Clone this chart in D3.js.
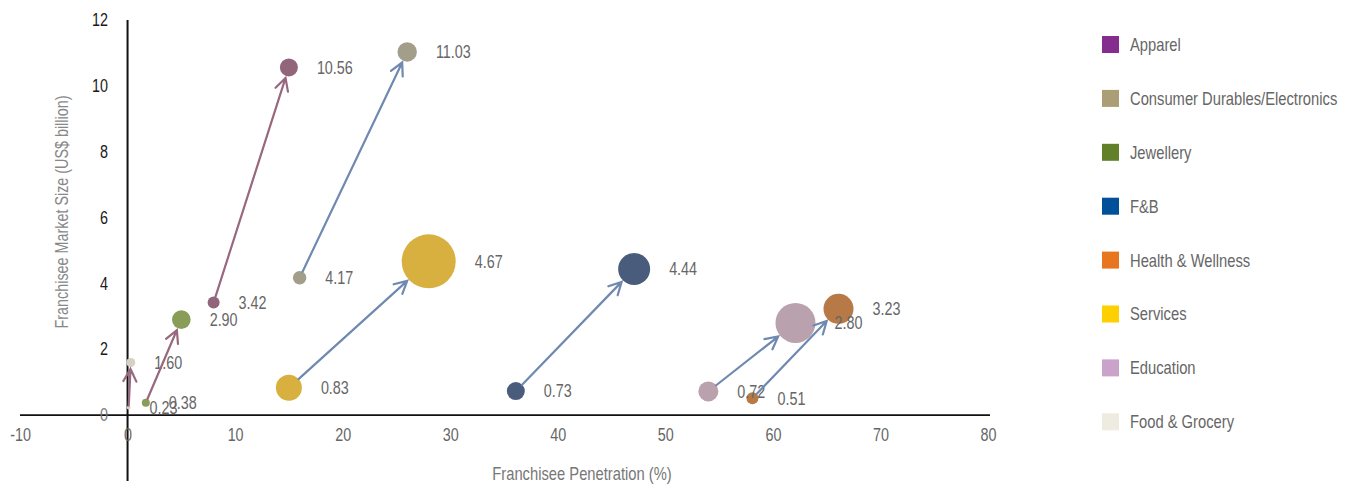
<!DOCTYPE html>
<html>
<head>
<meta charset="utf-8">
<script src="https://cdn.jsdelivr.net/npm/d3@7"></script>
<style>
body { margin: 0; background: #fff; }
svg { display: block; font-family: "Liberation Sans", Arial, sans-serif; }
</style>
</head>
<body>
<svg id="chart" width="1355" height="484"></svg>
<script>
//
// Data
//
var categories = ["Apparel", "Consumer Durables/Electronics", "Jewellery", "F&B",
	"Health & Wellness", "Services", "Education", "Food & Grocery"];
var legendColors = ["#852c8f", "#ab9d75", "#628028", "#00509a", "#e8761f", "#ffd000", "#caa3cb", "#eeebe0"];
var bubbleColors = ["#91667b", "#a39e8a", "#8a9d58", "#495c7c", "#b77946", "#d8b03f", "#b9a1ad", "#d7d1c4"];
var arrowColors  = ["#98687f", "#6f89b1", "#98687f", "#6f89b1", "#6f89b1", "#6f89b1", "#6f89b1", "#98687f"];
var penetrationStart = [8.0, 16.0, 1.7, 36.1, 58.1, 15.0, 54.0, 0.1];
var penetrationEnd   = [15.0, 26.0, 5.0, 47.1, 66.1, 28.0, 62.1, 0.3];
var marketStart = [3.42, 4.17, 0.38, 0.73, 0.51, 0.83, 0.72, 0.23];
var marketEnd   = [10.56, 11.03, 2.90, 4.44, 3.23, 4.67, 2.80, 1.60];
var sizeStart = [4.9, 6.2, 2.2, 11.1, 4.9, 23.2, 13.7, 0.5];
var sizeEnd   = [11.1, 12.9, 11.9, 35.1, 30.9, 100, 54.9, 2.8];
var xTicks = [-10, 0, 10, 20, 30, 40, 50, 60, 70, 80];
var yTicks = [0, 2, 4, 6, 8, 10, 12];

var NARROW = "scale(0.82,1)"; // condensed look of the original typeface

var svg = d3.select("#chart");
var x = d3.scaleLinear().domain([-10, 80]).range([20, 988]);
var y = d3.scaleLinear().domain([-2, 12]).range([481, 20]);
var r = d3.scaleSqrt().domain([0, 100]).range([0, 27]);

// axes (lines cross at zero)
svg.append("line").attr("x1", x(-10)).attr("x2", x(80) + 2)
	.attr("y1", y(0)).attr("y2", y(0))
	.attr("stroke", "#111").attr("stroke-width", 1.6);
svg.append("line").attr("x1", x(0)).attr("x2", x(0))
	.attr("y1", y(12)).attr("y2", y(-2))
	.attr("stroke", "#111").attr("stroke-width", 2);

var xAxis = d3.axisBottom(x).tickValues(xTicks).tickSize(0).tickPadding(0).tickFormat(String);
var gx = svg.append("g").attr("transform", "translate(0,429)").call(xAxis);
gx.select(".domain").remove();
gx.selectAll("text").attr("font-size", 17.5).attr("fill", "#666")
	.attr("font-family", null).attr("dy", "0.71em").attr("y", 0).attr("transform", NARROW);

var yAxis = d3.axisLeft(y).tickValues(yTicks).tickSize(0).tickPadding(0).tickFormat(String);
var gy = svg.append("g").attr("transform", "translate(108,0)").call(yAxis);
gy.select(".domain").remove();
gy.selectAll("text").attr("font-size", 17.5).attr("font-family", null).attr("transform", NARROW)
	.attr("fill", function(d) { return d === 0 ? "#777" : "#1a1a1a"; });

// axis titles
svg.append("text").attr("transform", "translate(582,480) " + NARROW).attr("text-anchor", "middle")
	.attr("font-size", 18).attr("fill", "#777").text("Franchisee Penetration (%)");
svg.append("text").attr("transform", "translate(68,212) rotate(-90) " + NARROW)
	.attr("text-anchor", "middle").attr("font-size", 17.5).attr("fill", "#888")
	.text("Franchisee Market Size (US$ billion)");

// bubbles: start and end for every category
var points = [];
categories.forEach(function(c, i) {
	points.push({i: i, px: penetrationStart[i], mk: marketStart[i], s: sizeStart[i]});
	points.push({i: i, px: penetrationEnd[i], mk: marketEnd[i], s: sizeEnd[i]});
});

svg.append("g").selectAll("circle").data(points).enter().append("circle")
	.attr("cx", function(d) { return x(d.px); })
	.attr("cy", function(d) { return y(d.mk); })
	.attr("r", function(d) { return r(d.s); })
	.attr("fill", function(d) { return bubbleColors[d.i]; });

svg.append("g").selectAll("text").data(points).enter().append("text")
	.attr("transform", function(d) {
		return "translate(" + (x(d.px) + r(d.s) + 19) + "," + y(d.mk) + ") " + NARROW;
	})
	.attr("dy", "0.36em")
	.attr("font-size", 17.5).attr("fill", "#666")
	.text(function(d) { return d3.format(".2f")(d.mk); });

// arrows from start bubble to end bubble
var arrows = svg.append("g").attr("fill", "none").attr("stroke-width", 2.2)
	.attr("stroke-linecap", "round");
categories.forEach(function(c, i) {
	var x0 = x(penetrationStart[i]), y0 = y(marketStart[i]);
	var x1 = x(penetrationEnd[i]), y1 = y(marketEnd[i]);
	var dx = x1 - x0, dy = y1 - y0, len = Math.sqrt(dx * dx + dy * dy);
	var ux = dx / len, uy = dy / len;
	var r0 = r(sizeStart[i]), r1 = r(sizeEnd[i]) + 2;
	var sx = x0 + ux * r0, sy = y0 + uy * r0;
	var tx = x1 - ux * r1, ty = y1 - uy * r1;
	var ang = Math.atan2(uy, ux), head = 14, spread = Math.PI / 6.5;
	var a1 = [tx - head * Math.cos(ang - spread), ty - head * Math.sin(ang - spread)];
	var a2 = [tx - head * Math.cos(ang + spread), ty - head * Math.sin(ang + spread)];
	arrows.append("path")
		.attr("stroke", arrowColors[i])
		.attr("d", "M" + [sx, sy] + "L" + [tx, ty] + "M" + a1 + "L" + [tx, ty] + "L" + a2);
});

// legend
var legend = svg.append("g").attr("transform", "translate(1102,36)");
var rows = legend.selectAll("g").data(categories).enter().append("g")
	.attr("transform", function(d, i) { return "translate(0," + (i * 53.9) + ")"; });
rows.append("rect").attr("width", 17).attr("height", 17)
	.attr("fill", function(d, i) { return legendColors[i]; });
rows.append("text").attr("transform", "translate(28,8.5) " + NARROW).attr("dy", "0.36em")
	.attr("font-size", 18).attr("fill", "#666").text(function(d) { return d; });
</script>
</body>
</html>
